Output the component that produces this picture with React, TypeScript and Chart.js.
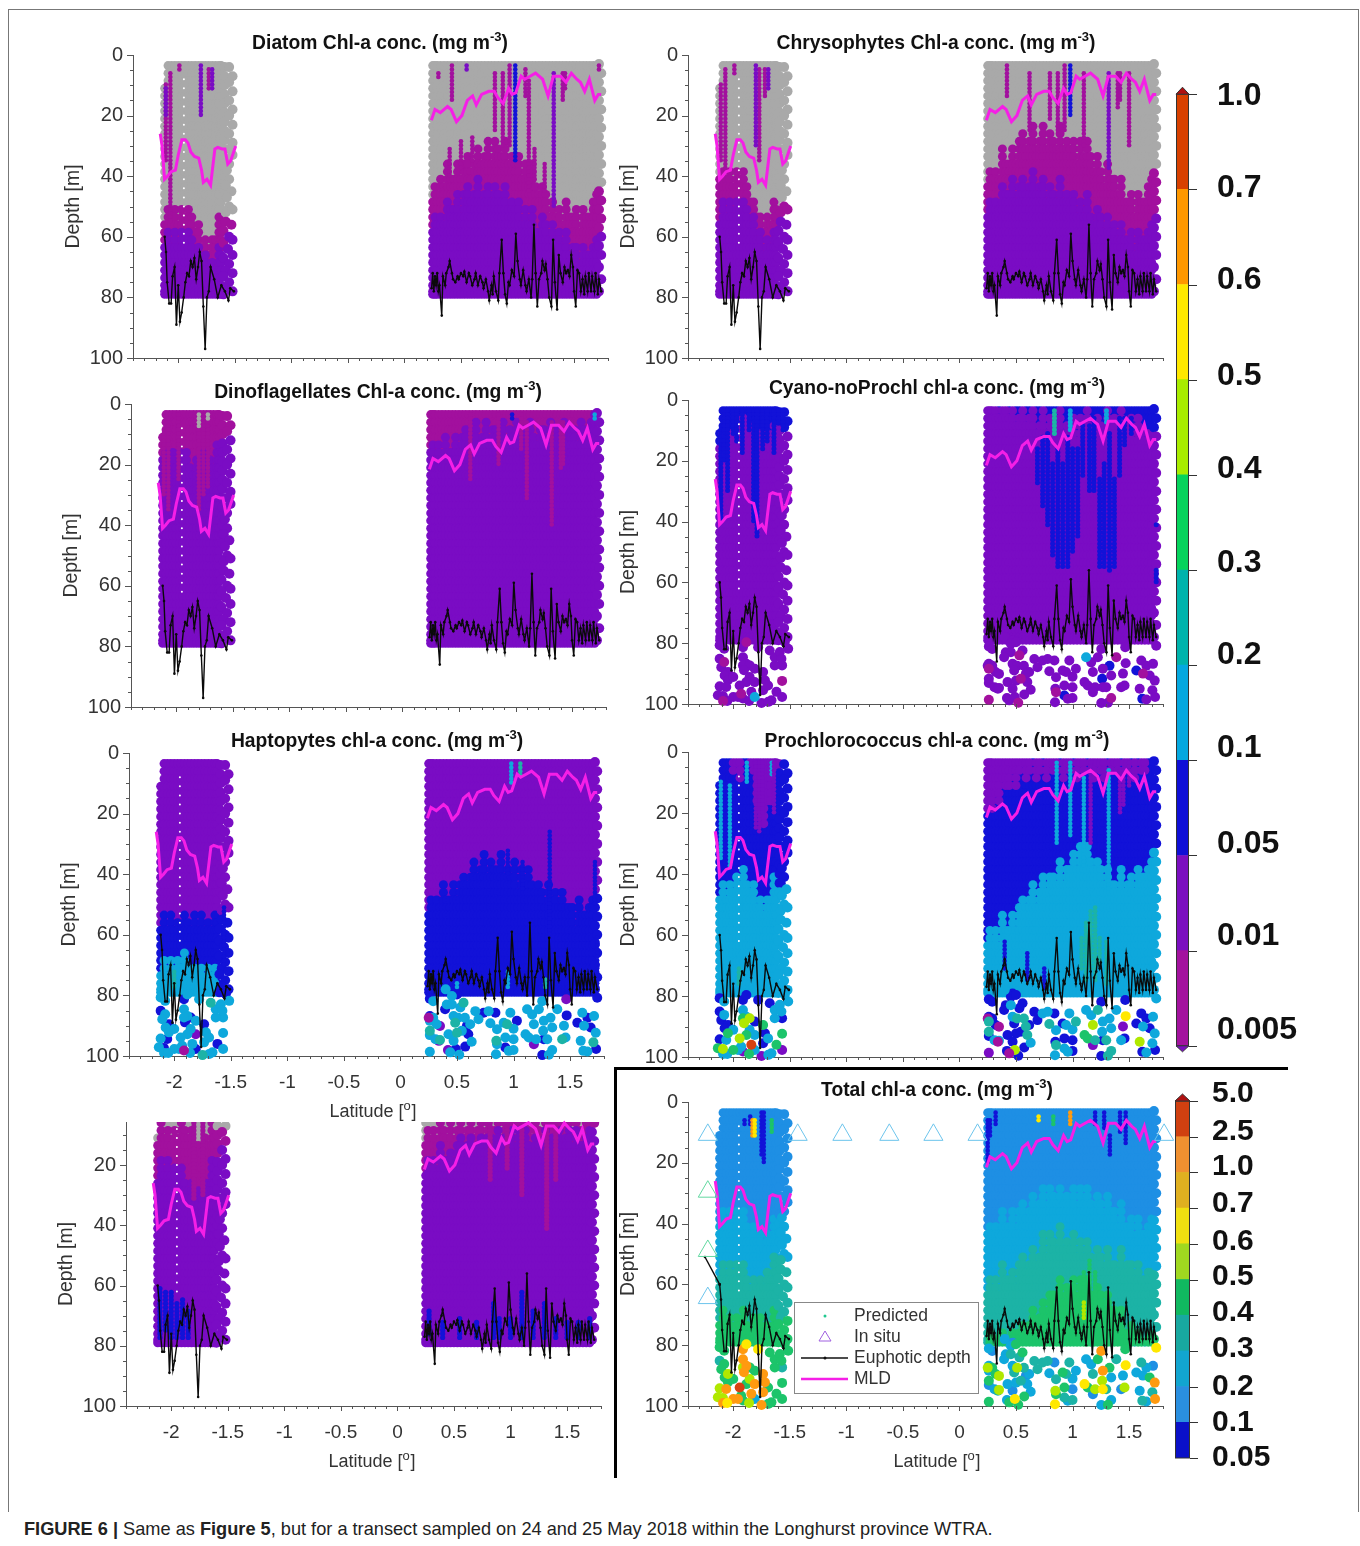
import React, { useEffect, useRef } from "react";
import { Chart, registerables } from "chart.js";
Chart.register(...registerables);

const FONT = "'Liberation Sans', Arial, sans-serif";
const classColors: Record<string, string> = {
  g: "#a9a9a9", m: "#a2109e", p: "#7a0cc4", b: "#1212d8", a: "#1e8fe4", c: "#0ea8dc",
  t: "#1cb3a6", n: "#1cc46a", l: "#b0e800", y: "#ffe800", o: "#ff9a10", r: "#d84010",
};

// ---- sampling grid of the transect ----
const stationLats = [-2.12, -2.09, -2.06, -2.03, -2.0, -1.97, -1.94, -1.91, -1.88, -1.85, -1.82, -1.79, -1.76, -1.73, -1.7, -1.67, -1.64, -1.62,
  0.25, 0.27, 0.29, 0.32, 0.35, 0.38, 0.41, 0.44, 0.47, 0.5, 0.53, 0.56, 0.59, 0.62, 0.65, 0.68, 0.71, 0.74, 0.77, 0.8, 0.83, 0.86, 0.89, 0.92, 0.95, 0.98,
  1.01, 1.04, 1.07, 1.1, 1.13, 1.16, 1.19, 1.22, 1.25, 1.28, 1.31, 1.34, 1.37, 1.4, 1.43, 1.46, 1.49, 1.52, 1.55, 1.58, 1.61, 1.64, 1.67, 1.7];
const stationJag = [2, -3, 1, -2, 3, -1, 2, -3, 0, 3, -2, 1, -3, 2, -1, 3, -2, 1,
  1, -3, 2, -1, 3, -4, 1, 2, -2, 4, -1, -3, 2, 0, -4, 3, 1, -3, 4, -2, 0, 2, -4, 3, -1, 1, -3, 4, -2, 2, -4, 1, 3, -2, 0, 4, -3, 1, -1, 3, -4, 2, 0, -2, 4, -3, 1, 2, -1, -3];
const gridDepths = [3.5, 6, 8.5, 11, 13.5, 16, 18.5, 21, 23.5, 26, 28.5, 31, 33.5, 36, 38.5, 41, 43.5, 46, 48.5, 51, 53.5, 56, 58.5, 61, 63.5, 66, 68.5, 71, 73.5, 76, 78, 79];
const streakDepths = [3.5, 4.75, 6, 7.25, 8.5, 9.75, 11, 12.25, 13.5, 14.75, 16, 17.25, 18.5, 19.75, 21, 22.25, 23.5, 24.75, 26, 27.25, 28.5, 29.75, 31, 32.25, 33.5, 34.75, 36, 37.25, 38.5, 39.75, 41, 42.25, 43.5, 44.75, 46, 47.25, 48.5, 49.75, 51, 52.25, 53.5, 54.75, 56, 57.25, 58.5, 59.75, 61, 62.25, 63.5, 64.75, 66, 67.25, 68.5, 69.75, 71, 72.25, 73.5, 74.75, 76, 77.25, 78.5];
const edgeLat = [-1.59, -1.59, -1.59, -1.59, -1.59, -1.59, -1.59, -1.59, -1.59, -1.59, -1.59, -1.59, -1.59, -1.59, -1.59,
  -1.55, -1.52, -1.55, -1.52, -1.55, -1.52, -1.55, -1.52, -1.55, -1.52, -1.55, -1.52, -1.55, -1.57, -1.55, -1.58, -1.53, -1.57,
  -1.55, -1.58, -1.52, -1.58, -1.53, -1.6, -1.55, -1.52, -1.6, -1.56, -1.52, -1.6, -1.55, -1.58, -1.52, -1.6, -1.55, -1.52, -1.58, -1.6,
  1.72, 1.74, 1.72, 1.74, 1.72, 1.74, 1.72, 1.74, 1.72, 1.74, 1.72, 1.74, 1.72, 1.74, 1.72, 1.74, 1.72, 1.74, 1.72, 1.74, 1.72, 1.74, 1.72, 1.74, 1.72];
const edgeDepth = [4, 7, 10, 13, 16, 19, 22, 25, 28, 31, 34, 37, 40, 43, 46,
  4, 7, 9, 12, 15, 18, 20, 23, 26, 29, 31, 33, 36, 38, 41, 43, 45, 47,
  50, 52, 51, 55, 56, 58, 60, 61, 62, 64, 66, 67, 69, 71, 72, 73, 75, 78, 77, 79,
  3, 6, 9, 12, 15, 18, 21, 24, 27, 30, 33, 36, 39, 42, 45, 48, 51, 54, 57, 60, 63, 66, 70, 74, 78];
const dottedDepths = [8, 11, 14, 17, 20, 23, 26, 29, 32, 35, 38, 41, 44, 47, 50, 53, 56, 59, 62];

// ---- sparse deep samples (below the 80 m mask) ----
const deepLatL = [-2.12, -2.08, -2.12, -2.08, -2.106, -2.047, -2.076, -2.047, -2.12, -2.062, -2.136, -2.091, -2.0, -2.09, -2.053, -1.914, -1.86, -1.958, -2.0, -1.914, -1.884, -1.914, -1.884, -1.914, -1.855, -1.905, -1.81, -1.855, -1.884, -1.943, -1.81, -1.84, -1.93, -1.78, -1.736, -1.72, -1.736, -1.75, -1.662, -1.69, -1.618, -1.568, -1.568, -1.568, -1.633, -1.677, -1.633, -1.588, -1.544, -1.514, -1.574, -1.692, -1.81];
const deepDepthL = [80.7, 81.8, 85.1, 86.2, 87.9, 89.5, 90.6, 92.2, 94.2, 94.4, 97.1, 97.4, 97.7, 99, 99, 98.2, 99, 97.7, 91.1, 81.3, 79.7, 84.6, 86.8, 87.3, 87.3, 88.9, 88.4, 91.1, 92.8, 93.9, 92.8, 96, 96.6, 81.3, 89.5, 92.2, 95.5, 99.7, 98.8, 99.3, 96, 92.4, 97.7, 87.3, 87.3, 82.4, 84.6, 82.9, 79.6, 81.8, 85.1, 93.9, 97.7];
const deepLatR = [0.26, 0.29, 0.26, 0.29, 0.25, 0.26, 0.32, 0.35, 0.26, 0.26, 0.31, 0.34, 0.35, 0.26, 0.42, 0.44, 0.49, 0.52, 0.4, 0.47, 0.455, 0.5, 0.41, 0.455, 0.558, 0.53, 0.395, 0.47, 0.51, 0.57, 0.484, 0.617, 0.588, 0.425, 0.5, 0.543, 0.6, 0.47, 0.63, 0.573, 0.662, 0.69, 0.795, 0.84, 0.854, 0.848, 0.854, 0.928, 1.0, 1.0, 0.928, 0.958, 1.0, 0.845, 0.913, 0.943, 1.03, 1.106, 1.135, 1.18, 1.2, 1.268, 1.262, 1.18, 1.254, 1.313, 1.342, 1.298, 1.268, 1.327, 1.342, 1.43, 1.46, 1.446, 1.47, 1.466, 1.254, 1.564, 1.608, 1.653, 1.712, 1.623, 1.682, 1.727, 1.594, 1.706, 1.653, 1.617, 1.73, 1.74, 0.736, 0.78, 0.972, 1.165, 1.224, 1.387, 1.12];
const deepDepthR = [81.1, 81.9, 86.8, 87.4, 87.4, 88.4, 89.5, 90.1, 91.7, 93.1, 94.5, 95, 94.7, 98.6, 98, 98.8, 97.7, 99.6, 78, 79.2, 80.2, 79.7, 83, 83, 82.4, 84, 84.6, 86.8, 87.4, 87.4, 89, 89.5, 90, 92.8, 92.3, 91.7, 92.8, 95, 95.3, 96.9, 85.2, 87.9, 89.2, 85.7, 91.2, 95, 96.1, 93.9, 91, 94.5, 97.2, 98.3, 98, 99.4, 89, 89.5, 88.4, 92.8, 93.9, 89.5, 94.5, 94.5, 91.7, 96.1, 99.7, 99.6, 98, 94.5, 88.4, 87.4, 90.6, 94.5, 93.9, 90, 86.6, 81.3, 81.9, 89, 85.7, 87.4, 86.8, 90, 90.6, 92.3, 95, 95.5, 98.5, 98.3, 97.7, 80.8, 85.7, 85.2, 85.7, 86.3, 84.6, 84.6, 84.6];

// ---- MLD and euphotic depth along the track ----
const mldLatL = [-2.159, -2.143, -2.121, -2.095, -2.063, -2.025, -2.0, -1.968, -1.937, -1.914, -1.889, -1.857, -1.819, -1.794, -1.778, -1.746, -1.714, -1.676, -1.651, -1.613, -1.587, -1.562, -1.537, -1.492];
const mldDepthL = [26, 30, 41, 40, 38.5, 38, 33, 28, 28, 29, 32, 33.5, 34, 38, 42, 41, 43, 31, 30.5, 31, 31, 36, 35, 30];
const mldLatR = [0.238, 0.27, 0.317, 0.381, 0.413, 0.46, 0.508, 0.556, 0.587, 0.603, 0.635, 0.683, 0.746, 0.794, 0.825, 0.873, 0.921, 0.952, 0.984, 1.032, 1.063, 1.111, 1.159, 1.222, 1.27, 1.317, 1.381, 1.429, 1.476, 1.524, 1.556, 1.594, 1.635, 1.683, 1.714, 1.74];
const mldDepthR = [21.5, 18, 19, 17, 18, 22, 20, 15, 14, 13.5, 16.5, 13, 12, 12, 14, 16, 11, 13, 12.5, 7, 8, 7, 6, 8, 13.5, 7, 7, 9, 6, 8, 9, 12, 8, 15, 13, 13];
const euLatL = [-2.12, -2.108, -2.098, -2.08, -2.063, -2.05, -2.032, -2.016, -2.0, -1.985, -1.97, -1.952, -1.937, -1.921, -1.905, -1.889, -1.873, -1.857, -1.841, -1.825, -1.81, -1.794, -1.778, -1.762, -1.746, -1.73, -1.714, -1.682, -1.651, -1.619, -1.587, -1.556, -1.54, -1.508];
const euDepthL = [60, 65, 75, 82, 82, 73, 70, 89, 76, 88, 85, 80, 75, 72, 73, 68, 70, 67, 74, 70, 65, 68, 83, 97, 80, 78, 70, 74, 80, 76, 78, 81, 77, 78];
const euLatR = [0.24, 0.25, 0.26, 0.27, 0.28, 0.29, 0.3, 0.31, 0.33, 0.34, 0.36, 0.37, 0.39, 0.4, 0.42, 0.43, 0.45, 0.47, 0.48, 0.5, 0.52, 0.53, 0.55, 0.57, 0.58, 0.6, 0.62, 0.63, 0.65, 0.67, 0.69, 0.7, 0.72, 0.74, 0.75, 0.77, 0.78, 0.79, 0.81, 0.83, 0.84, 0.86, 0.875, 0.89, 0.905, 0.92, 0.93, 0.95, 0.97, 0.985, 1.0, 1.02, 1.03, 1.05, 1.07, 1.08, 1.1, 1.12, 1.13, 1.145, 1.16, 1.175, 1.19, 1.21, 1.22, 1.24, 1.25, 1.265, 1.28, 1.3, 1.315, 1.33, 1.35, 1.365, 1.38, 1.4, 1.415, 1.43, 1.445, 1.46, 1.475, 1.49, 1.5, 1.515, 1.53, 1.545, 1.56, 1.575, 1.59, 1.6, 1.62, 1.63, 1.65, 1.66, 1.68, 1.69, 1.71, 1.72, 1.74];
const euDepthR = [77, 72, 78, 73, 76, 72, 78, 76, 86, 73, 76, 72, 70, 68, 72, 74, 75, 73, 74, 72, 73, 71.5, 75, 72, 73, 76, 74, 72, 76, 73, 75, 77, 74, 78, 81, 76, 79, 73, 78, 81, 72, 61, 72, 79, 82, 75, 76, 71, 73, 59, 68, 74, 76, 71, 76, 78, 74, 80, 74, 56, 72, 83, 74, 72, 68, 71, 69, 74, 80, 83, 61, 75, 84, 66, 72, 75, 70, 72, 71, 73, 66, 70, 78, 83, 71, 72, 78, 74, 79, 73, 78, 72, 78, 73, 78, 72, 79, 74, 78];

// ---- band tables: bottoms of layers in metres at reference latitudes ----
const bandLat = [-2.14, -2.05, -1.95, -1.85, -1.75, -1.65, -1.55, 0.25, 0.35, 0.45, 0.55, 0.65, 0.75, 0.85, 0.95, 1.05, 1.15, 1.25, 1.35, 1.45, 1.55, 1.65, 1.75];
const full = [90, 90, 90, 90, 90, 90, 90, 90, 90, 90, 90, 90, 90, 90, 90, 90, 90, 90, 90, 90, 90, 90, 90];

const diatomGrey = [54, 52, 50, 54, 64, 56, 50, 45, 40, 37, 36, 33, 30, 30, 33, 35, 40, 45, 52, 50, 53, 50, 47];
const diatomMagenta = [60, 60, 58, 62, 68, 66, 56, 55, 52, 48, 46, 44, 44, 45, 49, 50, 55, 55, 58, 62, 65, 62, 62];
const chrysoGrey = [38, 40, 38, 45, 55, 50, 46, 40, 36, 32, 28, 26, 26, 27, 28, 30, 32, 36, 40, 45, 48, 45, 40];
const chrysoMagenta = [52, 50, 48, 52, 62, 60, 50, 50, 46, 43, 42, 41, 42, 44, 46, 48, 50, 52, 56, 58, 60, 58, 56];
const dinoMagenta = [16, 18, 16, 20, 18, 16, 8, 14, 14, 12, 10, 9, 8, 8, 8, 9, 8, 8, 8, 8, 8, 7, 5];
const cyanoBlue = [14, 12, 7, 7, 12, 10, 8, 1, 1, 3, 5, 6, 6, 7, 7, 8, 7, 7, 6, 6, 7, 10, 13];
const haptoPurple = [55, 55, 55, 55, 55, 55, 50, 50, 47, 45, 42, 38, 36, 36, 37, 40, 42, 44, 46, 48, 52, 50, 50];
const haptoBlue = [70, 70, 68, 70, 72, 70, 90, 90, 90, 90, 90, 90, 90, 90, 90, 90, 90, 90, 90, 90, 90, 90, 90];
const prochlPurple = [1, 1, 8, 1, 25, 10, 1, 18, 15, 10, 8, 7, 6, 6, 6, 6, 6, 6, 5, 5, 5, 5, 1];
const prochlBlue = [45, 45, 40, 42, 52, 42, 43, 60, 58, 55, 50, 47, 42, 40, 38, 32, 33, 38, 42, 42, 40, 38, 35];
const lowerGrey = [10, 8, 8, 6, 15, 8, 7, 10, 8, 7, 7, 7, 7, 6, 6, 7, 7, 7, 6, 6, 6, 6, 6];
const lowerMagenta = [22, 20, 20, 25, 30, 20, 12, 20, 18, 16, 14, 13, 12, 10, 10, 10, 10, 12, 10, 10, 10, 10, 10];
const totalA = [38, 38, 36, 40, 45, 40, 35, 42, 40, 38, 36, 33, 30, 30, 30, 30, 30, 32, 35, 38, 40, 40, 42];
const totalC = [55, 55, 52, 58, 60, 52, 50, 60, 58, 56, 54, 50, 46, 44, 46, 46, 48, 50, 52, 52, 54, 56, 58];
const totalT = [70, 72, 70, 72, 74, 70, 70, 78, 78, 78, 76, 72, 66, 62, 60, 60, 60, 62, 68, 72, 76, 78, 78];

// ---- thin vertical streaks: latitude, top, bottom, class ----
type Streak = [number, number, number, string];
const diatomStreaks: Streak[] = [[-2.11, 9, 35, "m"], [-2.11, 10, 20, "p"], [-2.07, 5, 55, "m"], [-1.99, 3, 5, "m"], [-1.8, 3, 20, "p"], [-1.73, 4, 12, "m"], [-1.7, 4, 11, "p"], [0.3, 5, 8, "m"], [0.42, 3, 15, "m"], [0.55, 3, 5, "p"], [0.8, 5, 25, "m"], [0.87, 5, 30, "m"], [0.93, 3, 30, "m"], [0.98, 3, 35, "b"], [1.07, 4, 14, "m"], [1.1, 8, 45, "m"], [1.32, 5, 50, "p"], [1.4, 5, 15, "m"], [1.42, 5, 12, "m"], [0.4, 30, 40, "m"], [0.5, 28, 38, "m"], [0.6, 27, 35, "m"], [1.15, 30, 42, "m"], [1.24, 35, 45, "m"], [1.72, 3, 5, "m"]];
const chrysoStreaks: Streak[] = [[-2.11, 9, 35, "m"], [-2.07, 4, 38, "m"], [-1.99, 3, 6, "m"], [-1.8, 3, 30, "p"], [-1.77, 4, 35, "m"], [-1.72, 4, 14, "m"], [-1.69, 4, 12, "p"], [0.42, 3, 14, "m"], [0.62, 5, 25, "m"], [0.8, 5, 22, "m"], [0.87, 5, 25, "m"], [0.93, 3, 25, "m"], [0.98, 3, 20, "b"], [1.1, 6, 30, "m"], [1.32, 5, 38, "p"], [1.4, 5, 18, "m"], [1.42, 5, 15, "m"], [1.5, 5, 30, "m"]];
const dinoStreaks: Streak[] = [[-2.11, 9, 30, "m"], [-2.07, 4, 35, "m"], [-1.98, 3, 25, "m"], [-1.8, 3, 35, "m"], [-1.76, 3, 30, "m"], [-1.72, 5, 28, "m"], [-1.8, 3, 8, "g"], [-1.72, 3, 5, "g"], [0.6, 3, 25, "m"], [0.85, 3, 20, "m"], [1.05, 3, 15, "m"], [1.1, 5, 32, "m"], [1.32, 5, 40, "m"], [1.4, 5, 22, "m"], [1.42, 5, 20, "m"], [0.97, 3, 5, "b"], [1.7, 3, 5, "c"]];
const cyanoStreaks: Streak[] = [[-2.11, 9, 40, "b"], [-2.08, 3, 20, "b"], [-2.05, 3, 30, "b"], [-2.0, 3, 12, "b"], [-1.97, 3, 14, "b"], [-1.92, 3, 18, "b"], [-1.86, 3, 10, "b"], [-1.82, 3, 40, "b"], [-1.79, 3, 45, "b"], [-1.74, 3, 16, "b"], [-1.7, 3, 14, "b"], [-1.64, 3, 18, "b"], [-1.6, 3, 8, "b"], [-1.56, 3, 10, "b"],
  [0.69, 15, 28, "b"], [0.736, 12, 35, "b"], [0.78, 10, 42, "b"], [0.824, 20, 52, "b"], [0.87, 15, 55, "b"], [0.913, 20, 55, "b"], [0.958, 12, 55, "b"], [1.0, 15, 50, "b"], [1.046, 15, 45, "b"], [1.09, 8, 25, "b"], [1.15, 8, 30, "b"], [1.19, 5, 30, "b"], [1.24, 25, 55, "b"], [1.28, 20, 55, "b"], [1.327, 10, 57, "b"], [1.37, 25, 55, "b"], [1.416, 5, 25, "b"], [1.46, 5, 15, "b"], [1.52, 5, 12, "b"], [0.84, 3, 12, "t"], [0.98, 3, 10, "c"], [1.3, 3, 8, "c"], [1.74, 40, 42, "b"], [1.74, 55, 60, "b"]];
const haptoStreaks: Streak[] = [[0.98, 3, 10, "c"], [1.06, 3, 8, "t"], [1.32, 25, 60, "b"], [1.08, 35, 45, "b"], [0.95, 32, 40, "b"], [-2.1, 70, 78, "c"], [-2.0, 72, 78, "t"], [-1.84, 72, 78, "c"], [1.72, 35, 50, "b"], [1.74, 60, 78, "b"], [-1.56, 50, 70, "b"], [0.5, 75, 78, "c"], [0.95, 72, 78, "c"], [1.28, 74, 78, "t"]];
const prochlStreaks: Streak[] = [[-2.11, 9, 35, "c"], [-2.03, 10, 38, "c"], [-1.88, 3, 10, "c"], [-1.8, 3, 25, "p"], [-1.77, 3, 27, "p"], [-1.74, 3, 20, "p"], [-1.66, 3, 8, "c"], [-1.64, 3, 20, "p"], [0.86, 3, 30, "c"], [0.98, 3, 28, "c"], [1.1, 8, 38, "c"], [1.32, 5, 45, "c"], [1.16, 3, 30, "p"], [1.42, 5, 20, "p"], [1.45, 5, 18, "p"], [1.5, 3, 12, "p"], [1.12, 55, 75, "t"], [1.16, 52, 72, "t"], [1.2, 50, 75, "t"], [1.24, 60, 70, "t"], [1.08, 60, 72, "t"], [1.3, 62, 76, "t"], [0.4, 62, 72, "b"], [0.6, 65, 75, "b"], [0.75, 70, 78, "b"], [-1.95, 70, 76, "t"]];
const lowerStreaks: Streak[] = [[-1.8, 6, 32, "m"], [-1.72, 6, 30, "m"], [1.1, 6, 30, "m"], [1.32, 6, 42, "m"], [1.4, 6, 25, "m"], [0.82, 6, 25, "m"], [0.97, 6, 22, "m"], [-2.1, 60, 78, "b"], [-2.05, 62, 75, "b"], [-2.0, 62, 78, "b"], [-1.95, 65, 78, "b"], [-1.9, 64, 78, "b"], [-1.85, 68, 78, "b"], [0.28, 68, 76, "b"], [0.4, 72, 78, "b"], [0.55, 70, 78, "b"], [0.7, 72, 78, "b"], [0.85, 66, 78, "b"], [0.9, 70, 78, "b"], [1.0, 70, 78, "b"], [1.1, 62, 78, "b"], [1.2, 68, 78, "b"], [1.3, 66, 78, "b"], [1.4, 70, 78, "b"], [1.5, 72, 78, "b"], [1.6, 72, 78, "b"], [1.7, 70, 78, "b"]];
const totalStreaks: Streak[] = [[-1.75, 3, 18, "b"], [-1.73, 3, 20, "b"], [-1.83, 5, 12, "o"], [-1.81, 5, 12, "y"], [-1.66, 5, 10, "n"], [0.25, 5, 20, "b"], [0.27, 5, 12, "b"], [0.32, 3, 8, "b"], [0.98, 3, 8, "o"], [0.7, 4, 7, "y"], [0.83, 4, 8, "n"], [1.2, 3, 8, "b"], [1.28, 3, 9, "b"], [1.33, 10, 18, "b"], [1.42, 3, 10, "b"], [1.47, 3, 14, "b"], [1.1, 55, 65, "n"], [1.15, 52, 66, "n"], [1.2, 55, 70, "n"], [1.1, 66, 72, "l"], [-1.9, 5, 8, "b"], [-1.85, 4, 8, "b"]];

// ---- class of each deep sample, per panel ----
const cyanoDeepL = "pppmpppppppppmppppppmpppppppppppmppppppppmpppppppppp";
const cyanoDeepR = "pppppmpppppppmpppmpppppppmpppppppppmppppppppppmpppbpppppppppppbpppmppbpppppppbpppmpppppbpppppppm";
const haptoDeepL = "ccbccbcccbcbcccmcccbccccbbccccpcccbcctccbcccctccbcccb";
const haptoDeepR = "bcbcmccptccptcpcbccbcbcctcbccctcbctcbccbcccbctccccbcccctbccccbcpbcccccctccbpcbcbccbcctccbbbccccc";
const prochlDeepL = "bcbcbbbnbcnlnccpnccbbccnllbcnlcrcbnbbpccnnpbcbccccccc";
const prochlDeepR = "bbbbmtbmtbcmcpbmlbcbbbbcbbbcttbbtbbbtbcbbbtbcbtbcbccbcbctnnltbcpbtttccccbpybbbbbccbclccbbccccct";
const totalDeepL = "nntnnlnnlollooynlonoyoolnonlnroonyoooonnnnntnnnnnnnn";
const totalDeepR = "cacnlcnlnactlncnyncacnctntcclttcacctcacnttcatlnncatctyntcyntlylacnctoncalcynoctcacnoctctoytttcnt";

// ---- in situ triangles on the Total panel ----
const situLatBlue = [-2.225, -1.43, -1.035, -0.62, -0.23, 0.16, 1.81, -2.225];
const situDepthBlue = [10.8, 10.8, 10.8, 10.8, 10.8, 10.8, 10.8, 64.5];
const situLatGreen = [-2.225, -2.225];
const situDepthGreen = [29.5, 49];
const euExtraLat = [-2.25, -2.12];
const euExtraDepth = [51, 60];

// ---- axes ----
const latTickValues = [-2.4, -2.3, -2.2, -2.1, -2, -1.9, -1.8, -1.7, -1.6, -1.5, -1.4, -1.3, -1.2, -1.1, -1, -0.9, -0.8, -0.7, -0.6, -0.5, -0.4, -0.3, -0.2, -0.1, 0, 0.1, 0.2, 0.3, 0.4, 0.5, 0.6, 0.7, 0.8, 0.9, 1, 1.1, 1.2, 1.3, 1.4, 1.5, 1.6, 1.7, 1.8];
const latLabelled = [-2, -1.5, -1, -0.5, 0, 0.5, 1, 1.5];
const depthTickValues = [0, 5, 10, 15, 20, 25, 30, 35, 40, 45, 50, 55, 60, 65, 70, 75, 80, 85, 90, 95, 100];
const depthLabelled = [0, 20, 40, 60, 80, 100];

// ---- colour bars ----
const upperBarLabels = ["0.005", "0.01", "0.05", "0.1", "0.2", "0.3", "0.4", "0.5", "0.6", "0.7", "1.0"];
const upperBarLabelPos = [0.16, 1.155, 2.12, 3.13, 4.1, 5.07, 6.06, 7.04, 8.05, 9.01, 9.98];
const upperBarColors = ["#a3129e", "#7b0fc0", "#0f0fd6", "#05a8e0", "#00b3ac", "#06d35c", "#a8ec00", "#ffe800", "#ff9800", "#d84000"];
const lowerBarLabels = ["0.05", "0.1", "0.2", "0.3", "0.4", "0.5", "0.6", "0.7", "1.0", "2.5", "5.0"];
const lowerBarLabelPos = [0, 0.98, 2, 3.06, 4.07, 5.08, 6.07, 7.13, 8.17, 9.13, 10.2];
const lowerBarColors = ["#0a10c8", "#2a8fe0", "#12a5d0", "#18a8a0", "#10b860", "#a0d820", "#f0e010", "#e0b020", "#f09030", "#d04010"];

const panels = [
  { name: "Diatom Chl-a conc. (mg m", cx: 380, ty: 43, left: 133, top: 55, bottom: 358, layers: [["g", diatomGrey], ["m", diatomMagenta], ["p", full]], streaks: diatomStreaks },
  { name: "Chrysophytes Chl-a conc. (mg m", cx: 936, ty: 43, left: 688, top: 55, bottom: 358, layers: [["g", chrysoGrey], ["m", chrysoMagenta], ["p", full]], streaks: chrysoStreaks },
  { name: "Dinoflagellates Chl-a conc. (mg m", cx: 378, ty: 392, left: 131, top: 404, bottom: 707, layers: [["m", dinoMagenta], ["p", full]], streaks: dinoStreaks },
  { name: "Cyano-noProchl chl-a conc. (mg m", cx: 937, ty: 388, left: 688, top: 400, bottom: 704, layers: [["b", cyanoBlue], ["p", full]], streaks: cyanoStreaks, streakR: 2.5, deepL: cyanoDeepL, deepR: cyanoDeepR },
  { name: "Haptopytes chl-a conc. (mg m", cx: 377, ty: 741, left: 129, top: 753, bottom: 1056, layers: [["p", haptoPurple], ["b", haptoBlue], ["c", full]], streaks: haptoStreaks, deepL: haptoDeepL, deepR: haptoDeepR, xLabels: true, xTitle: 373 },
  { name: "Prochlorococcus chl-a conc. (mg m", cx: 937, ty: 741, left: 688, top: 752, bottom: 1057, layers: [["p", prochlPurple], ["b", prochlBlue], ["c", full]], streaks: prochlStreaks, deepL: prochlDeepL, deepR: prochlDeepR },
  { name: "", cx: 0, ty: 0, left: 126, top: 1122, bottom: 1406, yMin: 5.7, layers: [["g", lowerGrey], ["m", lowerMagenta], ["p", full]], streaks: lowerStreaks, streakR: 2.6, xLabels: true, xTitle: 372 },
  { name: "Total chl-a conc. (mg m", cx: 937, ty: 1090, left: 688, top: 1102, bottom: 1406, layers: [["a", totalA], ["c", totalC], ["t", totalT], ["n", full]], streaks: totalStreaks, deepL: totalDeepL, deepR: totalDeepR, xLabels: true, xTitle: 937, total: true },
] as any[];

const PLOT_W = 475, AXIS_W = 72, TOP_PAD = 40, RIGHT_PAD = 22;

function boundaryAt(bottoms: number[], lat: number): number {
  const lo = lat < 0 ? 0 : 7, hi = lat < 0 ? 6 : 22;
  if (lat <= bandLat[lo]) return bottoms[lo];
  if (lat >= bandLat[hi]) return bottoms[hi];
  for (let i = lo; i < hi; i++) {
    if (lat <= bandLat[i + 1]) {
      const f = (lat - bandLat[i]) / (bandLat[i + 1] - bandLat[i]);
      return bottoms[i] + f * (bottoms[i + 1] - bottoms[i]);
    }
  }
  return bottoms[hi];
}

function classAt(panel: any, lat: number, depth: number): string {
  let near = 0;
  stationLats.forEach((s, i) => { if (Math.abs(s - lat) < Math.abs(stationLats[near] - lat)) near = i; });
  const jag = stationJag[near] || 0;
  for (const [cls, bottoms] of panel.layers) if (depth <= boundaryAt(bottoms, lat) + jag) return cls;
  return panel.layers[panel.layers.length - 1][0];
}

function pointDatasets(panel: any) {
  const clip = panel.yMin ? undefined : false;
  const common = { showLine: false, pointBorderWidth: 0, clip };
  const collect = (fill: (add: (c: string, x: number, y: number) => void) => void, prefix: string, radius: number) => {
    const groups: Record<string, any[]> = {};
    fill((cls, x, y) => { (groups[cls] = groups[cls] || []).push({ x, y }); });
    return Object.keys(groups).map((cls) => ({ ...common, label: prefix + " " + cls, data: groups[cls], pointRadius: radius, backgroundColor: classColors[cls] }));
  };
  const sets: any[] = [
    ...collect((add) => stationLats.forEach((lat) => gridDepths.forEach((depth) => {
      if (lat < -2.1 && depth < 9) return;
      add(classAt(panel, lat, depth), lat, depth);
    })), "Predicted", 4.5),
    ...collect((add) => {
      edgeLat.forEach((lat, i) => add(classAt(panel, lat, edgeDepth[i]), lat, edgeDepth[i]));
      if (panel.deepL) {
        deepLatL.forEach((lat, i) => add(panel.deepL[i] || "c", lat, deepDepthL[i]));
        deepLatR.forEach((lat, i) => add(panel.deepR[i] || "c", lat, deepDepthR[i]));
      }
    }, "Sparse", 5),
    ...collect((add) => panel.streaks.forEach(([lat, t, b, cls]: Streak) => streakDepths.forEach((d) => {
      if (d >= t && d <= b) add(cls, lat, d);
    })), "Streak", panel.streakR || 2.3),
  ];
  sets.push({ ...common, label: "gap", data: dottedDepths.map((d) => ({ x: -1.95, y: d })), pointRadius: 1, backgroundColor: "#fff" });
  return sets;
}

function zip(xs: number[], ys: number[]) { return xs.map((x, i) => ({ x, y: ys[i] })); }

function lineDatasets(panel: any) {
  const line = (label: string, data: any[], color: string, w: number, r: number) => ({ label, data, showLine: true, borderColor: color, backgroundColor: color, borderWidth: w, pointRadius: r, pointBorderWidth: 0, tension: 0, clip: false });
  const sets: any[] = [
    line("MLD", zip(mldLatL, mldDepthL), "#f51fe6", 3, 0),
    line("MLD", zip(mldLatR, mldDepthR), "#f51fe6", 3, 0),
    line("Euphotic depth", zip(euLatL, euDepthL), "#0a0a0a", 1.4, 1.3),
    line("Euphotic depth", zip(euLatR, euDepthR), "#0a0a0a", 1.4, 1.3),
  ];
  if (panel.total) {
    sets.push(line("Euphotic depth", zip(euExtraLat, euExtraDepth), "#0a0a0a", 1.4, 1.3));
    const tri = (data: any[], color: string) => ({ label: "In situ", data, showLine: false, pointStyle: "triangle", pointRadius: 11, pointBorderWidth: 1, pointBorderColor: color, backgroundColor: "rgba(0,0,0,0)", clip: false });
    sets.push(tri(zip(situLatBlue, situDepthBlue), "#6cc4ec"));
    sets.push(tri(zip(situLatGreen, situDepthGreen), "#62d8a0"));
  }
  return sets;
}

function panelPlugin(panel: any) {
  return {
    id: "panelDecor",
    afterDraw(chart: any) {
      const { ctx, chartArea, scales } = chart;
      ctx.save();
      ctx.strokeStyle = "#555"; ctx.lineWidth = 1;
      scales.x.ticks.forEach((t: any) => {
        const px = Math.round(scales.x.getPixelForValue(t.value)) + 0.5;
        const major = latLabelled.includes(t.value);
        ctx.beginPath(); ctx.moveTo(px, chartArea.bottom); ctx.lineTo(px, chartArea.bottom + (major ? 5 : 3)); ctx.stroke();
      });
      scales.y.ticks.forEach((t: any) => {
        const py = Math.round(scales.y.getPixelForValue(t.value)) + 0.5;
        const major = depthLabelled.includes(t.value);
        ctx.beginPath(); ctx.moveTo(chartArea.left, py); ctx.lineTo(chartArea.left - (major ? 6 : 3), py); ctx.stroke();
      });
      const canvasLeft = panel.left - AXIS_W, canvasTop = panel.top - TOP_PAD;
      ctx.textBaseline = "alphabetic"; ctx.textAlign = "left";
      if (panel.name) {
        ctx.fillStyle = "#111";
        const big = `bold 19.3px ${FONT}`, small = `bold 13px ${FONT}`;
        ctx.font = big;
        const w1 = ctx.measureText(panel.name).width, w3 = ctx.measureText(")").width;
        ctx.font = small;
        const w2 = ctx.measureText("-3").width;
        let x = panel.cx - canvasLeft - (w1 + w2 + w3) / 2;
        const y = panel.ty - canvasTop + 6;
        ctx.font = big; ctx.fillText(panel.name, x, y); x += w1;
        ctx.font = small; ctx.fillText("-3", x, y - 8); x += w2;
        ctx.font = big; ctx.fillText(")", x, y);
      }
      if (panel.xTitle) {
        ctx.fillStyle = "#333";
        ctx.font = `18px ${FONT}`;
        const a = "Latitude [", b = "]";
        const wa = ctx.measureText(a).width, wb = ctx.measureText(b).width;
        let x = panel.xTitle - canvasLeft - (wa + wb + 8) / 2;
        const y = panel.bottom + 61 - canvasTop;
        ctx.fillText(a, x, y); x += wa;
        ctx.font = `13px ${FONT}`;
        ctx.fillText("o", x, y - 7); x += 8;
        ctx.font = `18px ${FONT}`;
        ctx.fillText(b, x, y);
      }
      if (panel.total) {
        const ox = -canvasLeft, oy = -canvasTop;
        ctx.fillStyle = "#fff"; ctx.strokeStyle = "#888"; ctx.lineWidth = 1;
        ctx.fillRect(794 + ox, 1302 + oy, 184, 91);
        ctx.strokeRect(794.5 + ox, 1302.5 + oy, 184, 91);
        ctx.fillStyle = "#333"; ctx.font = `17.5px ${FONT}`; ctx.textBaseline = "middle";
        ["Predicted", "In situ", "Euphotic depth", "MLD"].forEach((s, i) => ctx.fillText(s, 854 + ox, 1316 + i * 21 + oy));
        ctx.fillStyle = "#20c890"; ctx.beginPath(); ctx.arc(825 + ox, 1316 + oy, 1.5, 0, 7); ctx.fill();
        ctx.strokeStyle = "#a060e0"; ctx.beginPath(); ctx.moveTo(819 + ox, 1341 + oy); ctx.lineTo(831 + ox, 1341 + oy); ctx.lineTo(825 + ox, 1331 + oy); ctx.closePath(); ctx.stroke();
        ctx.strokeStyle = "#111"; ctx.lineWidth = 1.3; ctx.beginPath(); ctx.moveTo(801 + ox, 1358 + oy); ctx.lineTo(848 + ox, 1358 + oy); ctx.stroke();
        ctx.fillStyle = "#111"; ctx.beginPath(); ctx.arc(825 + ox, 1358 + oy, 1.5, 0, 7); ctx.fill();
        ctx.strokeStyle = "#f51fe6"; ctx.lineWidth = 2.6; ctx.beginPath(); ctx.moveTo(801 + ox, 1379 + oy); ctx.lineTo(848 + ox, 1379 + oy); ctx.stroke();
      }
      ctx.restore();
    },
  };
}

function makePanel(canvas: HTMLCanvasElement, panel: any) {
  const xh = 70;
  return new Chart(canvas, {
    type: "scatter",
    data: { datasets: [...pointDatasets(panel), ...lineDatasets(panel)].reverse() },
    options: {
      animation: false, responsive: false, events: [],
      layout: { autoPadding: false, padding: { top: TOP_PAD, right: RIGHT_PAD, left: 0, bottom: 0 } },
      plugins: { legend: { display: false }, tooltip: { enabled: false }, title: { display: false } },
      scales: {
        x: {
          type: "linear", min: -2.4, max: 1.8,
          afterBuildTicks: (s: any) => { s.ticks = latTickValues.map((value) => ({ value })); },
          afterFit: (s: any) => { s.height = xh; },
          grid: { display: false, drawTicks: false }, border: { color: "#555", width: 1 },
          ticks: {
            autoSkip: false, maxRotation: 0, padding: 15, color: "#333", font: { family: FONT, size: 19 },
            callback: (v: any) => (panel.xLabels && latLabelled.includes(Number(v)) ? String(v) : ""),
          },
        },
        y: {
          type: "linear", reverse: true, min: panel.yMin ?? 0, max: 100,
          afterBuildTicks: (s: any) => { s.ticks = depthTickValues.filter((v) => v >= (panel.yMin ?? 0)).map((value) => ({ value })); },
          afterFit: (s: any) => { s.width = AXIS_W; },
          grid: { display: false, drawTicks: false }, border: { color: "#555", width: 1 },
          title: { display: true, text: "Depth [m]", color: "#333", font: { family: FONT, size: 19.4 }, padding: 1 },
          ticks: {
            autoSkip: false, padding: 10, color: "#333", font: { family: FONT, size: 20 },
            callback: (v: any) => (depthLabelled.includes(Number(v)) ? String(v) : ""),
          },
        },
      },
    } as any,
    plugins: [panelPlugin(panel)] as any,
  });
}

function makeBar(canvas: HTMLCanvasElement, colors: string[], labels: string[], labelPos: number[], fontSize: number, pad: number, lowColor: string, w: number, padTop: number) {
  return new Chart(canvas, {
    type: "bar",
    data: { labels: ["scale"], datasets: colors.map((c, i) => ({ label: labels[i], data: [1], backgroundColor: c, borderWidth: 0, barPercentage: 1, categoryPercentage: 1 })) },
    options: {
      animation: false, responsive: false, events: [],
      layout: { autoPadding: false, padding: { top: padTop, bottom: 22, left: 6, right: 0 } },
      plugins: { legend: { display: false }, tooltip: { enabled: false }, title: { display: false } },
      scales: {
        x: { stacked: true, display: false },
        y: {
          stacked: true, min: 0, max: 10, position: "right",
          afterBuildTicks: (s: any) => { s.ticks = labelPos.map((value) => ({ value })); },
          afterFit: (s: any) => { s.width = canvas.width - 6 - w; },
          grid: { display: false, drawTicks: false }, border: { display: false },
          ticks: {
            autoSkip: false, padding: pad, color: "#111", font: { family: FONT, size: fontSize, weight: "bold" },
            callback: (v: any) => labels[labelPos.indexOf(Number(v))] ?? "",
          },
        },
      },
    } as any,
    plugins: [{
      id: "barDecor",
      afterDraw(chart: any) {
        const { ctx, chartArea: a, scales } = chart;
        const top = scales.y.getPixelForValue(10), bottom = scales.y.getPixelForValue(0);
        ctx.save();
        ctx.strokeStyle = "#333"; ctx.lineWidth = 1;
        ctx.strokeRect(a.left + 0.5, top, a.right - a.left - 1, bottom - top);
        colors.concat("").forEach((_, i) => {
          const py = Math.round(scales.y.getPixelForValue(i)) + 0.5;
          ctx.beginPath(); ctx.moveTo(a.right, py); ctx.lineTo(a.right + 8, py); ctx.stroke();
        });
        const mid = (a.left + a.right) / 2;
        ctx.fillStyle = "#b01010"; ctx.beginPath(); ctx.moveTo(a.left, top); ctx.lineTo(a.right, top); ctx.lineTo(mid, top - 7); ctx.closePath(); ctx.fill(); ctx.stroke();
        if (lowColor) { ctx.fillStyle = lowColor; ctx.beginPath(); ctx.moveTo(a.left, bottom); ctx.lineTo(a.right, bottom); ctx.lineTo(mid, bottom + 6); ctx.closePath(); ctx.fill(); ctx.stroke(); }
        ctx.restore();
      },
    }] as any,
  });
}

function PanelCanvas({ panel }: { panel: any }) {
  const ref = useRef<HTMLCanvasElement>(null);
  useEffect(() => {
    const c = makePanel(ref.current!, panel);
    return () => c.destroy();
  }, [panel]);
  const w = AXIS_W + PLOT_W + RIGHT_PAD, h = TOP_PAD + (panel.bottom - panel.top) + 70;
  return <canvas ref={ref} width={w} height={h} style={{ position: "absolute", left: panel.left - AXIS_W, top: panel.top - TOP_PAD, width: w, height: h }} />;
}

function BarCanvas(props: { left: number; top: number; width: number; height: number; colors: string[]; labels: string[]; pos: number[]; font: number; pad: number; low: string; barW: number; padTop: number }) {
  const ref = useRef<HTMLCanvasElement>(null);
  useEffect(() => {
    const c = makeBar(ref.current!, props.colors, props.labels, props.pos, props.font, props.pad, props.low, props.barW, props.padTop);
    return () => c.destroy();
  }, []);
  return <canvas ref={ref} width={props.width} height={props.height} style={{ position: "absolute", left: props.left, top: props.top, width: props.width, height: props.height }} />;
}

export default function App() {
  const abs = (l: number, t: number, w: number, h: number, bg: string): React.CSSProperties => ({ position: "absolute", left: l, top: t, width: w, height: h, background: bg });
  return (
    <div style={{ position: "absolute", left: 0, top: 0, width: 1360, height: 1546, background: "#fff", overflow: "hidden", filter: "blur(0.45px)" }}>
      <div style={abs(8, 9, 1, 1503, "#777")} />
      <div style={abs(8, 9, 1350, 1, "#777")} />
      <div style={abs(1358, 9, 1, 1503, "#777")} />
      {panels.map((p, i) => <PanelCanvas key={i} panel={p} />)}
      <BarCanvas left={1170} top={47} width={170} height={1046} colors={upperBarColors} labels={upperBarLabels} pos={upperBarLabelPos} font={32} pad={28} low="#7b0fc0" barW={13} padTop={12} />
      <BarCanvas left={1169} top={1061} width={140} height={437} colors={lowerBarColors} labels={lowerBarLabels} pos={lowerBarLabelPos} font={30} pad={22} low="" barW={15} padTop={19} />
      <div style={abs(615, 1067, 673, 3, "#000")} />
      <div style={abs(614, 1067, 3, 411, "#000")} />
      <div style={{ position: "absolute", left: 24, top: 1519, fontFamily: FONT, fontSize: 18.2, color: "#222", whiteSpace: "nowrap" }}>
        <b>FIGURE 6 |</b> Same as <b>Figure 5</b>, but for a transect sampled on 24 and 25 May 2018 within the Longhurst province WTRA.
      </div>
    </div>
  );
}
